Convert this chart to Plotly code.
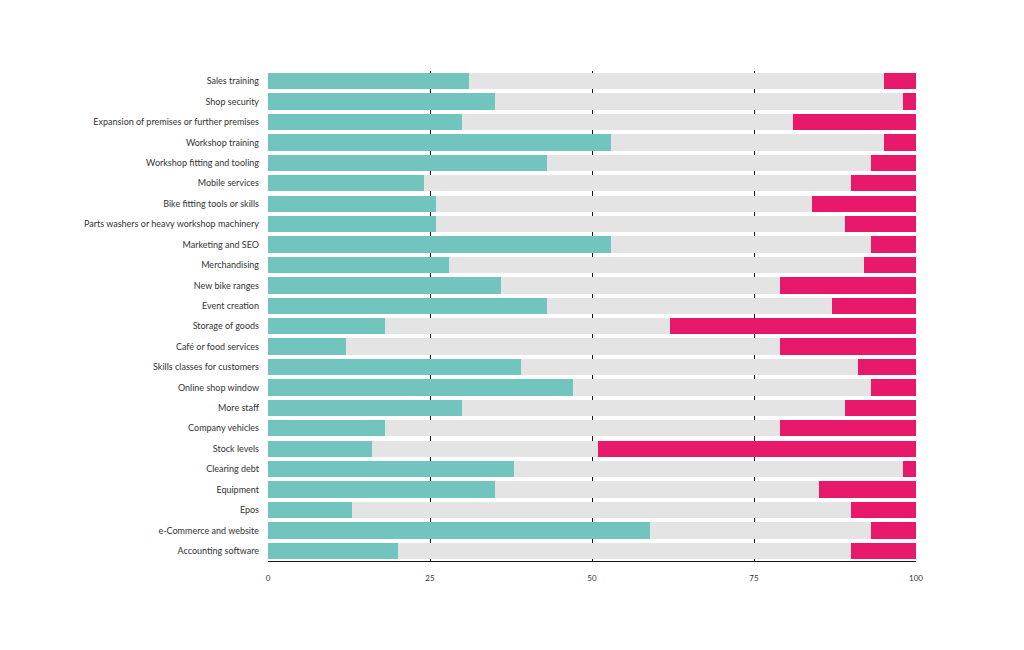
import plotly.graph_objects as go

categories = [
    "Sales training", "Shop security", "Expansion of premises or further premises",
    "Workshop training", "Workshop fitting and tooling", "Mobile services",
    "Bike fitting tools or skills", "Parts washers or heavy workshop machinery",
    "Marketing and SEO", "Merchandising", "New bike ranges", "Event creation",
    "Storage of goods", "Café or food services", "Skills classes for customers",
    "Online shop window", "More staff", "Company vehicles", "Stock levels",
    "Clearing debt", "Equipment", "Epos", "e-Commerce and website",
    "Accounting software",
]
teal_values = [31, 35, 30, 53, 43, 24, 26, 26, 53, 28, 36, 43, 18, 12, 39, 47, 30, 18, 16, 38, 35, 13, 59, 20]
grey_values = [64, 63, 51, 42, 50, 66, 58, 63, 40, 64, 43, 44, 44, 67, 52, 46, 59, 61, 35, 60, 50, 77, 34, 70]
pink_values = [5, 2, 19, 5, 7, 10, 16, 11, 7, 8, 21, 13, 38, 21, 9, 7, 11, 21, 49, 2, 15, 10, 7, 10]
tick_vals = [0, 25, 50, 75, 100]
tick_text = ["0", "25", "50", "75", "100"]

fig = go.Figure()
for vals, col in [(teal_values, "#72C5BE"), (grey_values, "#E4E4E4"), (pink_values, "#E8196B")]:
    fig.add_trace(go.Bar(y=categories, x=vals, orientation="h", marker=dict(color=col, line=dict(width=0)),
                         showlegend=False, hoverinfo="x+y"))

fig.update_layout(
    barmode="stack",
    bargap=0.2,
    width=1024, height=650,
    margin=dict(l=260, r=116, t=63, b=97),
    paper_bgcolor="white", plot_bgcolor="white",
    font=dict(family="Lato, Noto Sans, sans-serif", size=9, color="#333333"),
)
fig.update_xaxes(range=[0, 100], tickvals=tick_vals, ticktext=tick_text,
                 showgrid=True, gridcolor="#111111", gridwidth=1,
                 showline=True, linecolor="#111111", linewidth=1,
                 zeroline=False, tickfont=dict(size=8, color="#333333"),
                 ticks="", ticklabelstandoff=9)
fig.update_yaxes(autorange="reversed", showgrid=False, zeroline=False, showline=False,
                 ticks="", ticklabelstandoff=8, tickfont=dict(size=9, color="#333333"))

fig.write_html("out.html")
